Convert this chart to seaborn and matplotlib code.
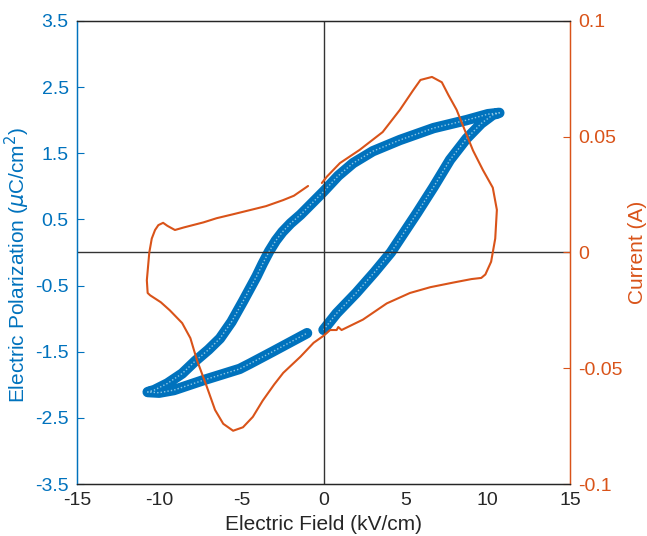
#!/usr/bin/env python3
"""P-E hysteresis loop with switching current on a second axis."""

import matplotlib
matplotlib.use("Agg")
import matplotlib.pyplot as plt
import seaborn as sns

BLUE = "#0072BD"
ORANGE = "#D95319"
DARK = "#262626"

# polarization loop, in drawing order (kV/cm, uC/cm^2)
pe_field = [0.0, 0.8, 2.0, 3.1, 4.1, 4.9, 5.7, 6.7, 7.7, 8.7, 9.6, 10.3, 10.7,
            10.0, 8.7, 6.7, 4.65, 3.0, 1.8, 0.9, 0.0, -1.4, -2.0, -2.5, -2.9,
            -3.3, -3.7, -4.07, -4.9, -5.6, -6.3, -7.0, -7.8, -8.6, -9.5, -10.3,
            -10.7, -10.0, -9.1, -7.3, -5.1, -4.47, -3.1, -1.0]
pe_polar = [-1.17, -0.92, -0.61, -0.3, 0.0, 0.3, 0.6, 0.99, 1.4, 1.72, 1.95, 2.08, 2.11,
            2.09, 2.0, 1.88, 1.70, 1.53, 1.35, 1.16, 0.92, 0.57, 0.44, 0.31, 0.18,
            0.02, -0.17, -0.36, -0.74, -1.05, -1.3, -1.47, -1.64, -1.83, -1.98, -2.08,
            -2.11, -2.12, -2.08, -1.93, -1.76, -1.68, -1.5, -1.22]

# current trace, in drawing order (kV/cm, A)
cur_field = [-0.94, -1.8, -2.46, -3.5, -4.47, -5.5, -6.5, -7.3, -8.5, -9.04, -9.5,
             -9.76, -10.05, -10.25, -10.45, -10.6, -10.75, -10.7, -10.55, -9.9,
             -9.35, -8.6, -8.1, -7.7, -7.1, -6.6, -6.1, -5.5, -4.9, -4.3, -3.7,
             -3.0, -2.45, -1.4, -0.6, 0.0, 0.4, 0.8, 0.9, 1.1, 2.4, 3.85, 5.26,
             6.5, 7.9, 9.0, 9.6, 9.85, 10.2, 10.45, 10.55, 10.3, 9.7, 9.1, 8.7,
             8.1, 7.6, 7.2, 6.6, 5.9, 5.45, 4.65, 3.6, 2.2, 1.0, 0.2, -0.1]
cur_amp = [0.0287, 0.0245, 0.0226, 0.0200, 0.0183, 0.0165, 0.0148, 0.0130, 0.0108,
           0.0097, 0.0115, 0.0128, 0.0118, 0.0097, 0.0060, 0.0, -0.012, -0.0175,
           -0.0185, -0.0215, -0.025, -0.0305, -0.037, -0.0465, -0.058, -0.068,
           -0.074, -0.077, -0.0755, -0.071, -0.064, -0.057, -0.052, -0.045,
           -0.039, -0.036, -0.0335, -0.0335, -0.0322, -0.0335, -0.029, -0.022,
           -0.0175, -0.015, -0.013, -0.0115, -0.011, -0.0095, -0.004, 0.006,
           0.0184, 0.028, 0.0356, 0.044, 0.051, 0.0616, 0.068, 0.0735, 0.0758,
           0.0745, 0.070, 0.0616, 0.052, 0.0443, 0.0386, 0.0327, 0.030]

x_ticks = [-15, -10, -5, 0, 5, 10, 15]
x_labels = ["-15", "-10", "-5", "0", "5", "10", "15"]
p_ticks = [-3.5, -2.5, -1.5, -0.5, 0.5, 1.5, 2.5, 3.5]
p_labels = ["-3.5", "-2.5", "-1.5", "-0.5", "0.5", "1.5", "2.5", "3.5"]
i_ticks = [-0.1, -0.05, 0, 0.05, 0.1]
i_labels = ["-0.1", "-0.05", "0", "0.05", "0.1"]

sns.set_style("white")
plt.rcParams["font.family"] = ["Liberation Sans", "DejaVu Sans"]
plt.rcParams["axes.unicode_minus"] = False

fig, ax = plt.subplots(figsize=(6.47, 5.36), dpi=100)
fig.subplots_adjust(left=0.119, right=0.881, bottom=0.097, top=0.961)
ax2 = ax.twinx()

# thick band imitating the dense open-circle markers
sns.lineplot(x=pe_field, y=pe_polar, sort=False, estimator=None, ax=ax,
             color=BLUE, linewidth=7.5, solid_capstyle="round",
             solid_joinstyle="round", zorder=2)
sns.lineplot(x=pe_field, y=pe_polar, sort=False, estimator=None, ax=ax,
             color="#8cc6e4", linewidth=1.0, linestyle=(0, (1, 1.5)), zorder=2.5)

ax.axhline(0, color="#333333", linewidth=1.0, zorder=3)
ax.axvline(0, color="#333333", linewidth=1.0, zorder=3)

sns.lineplot(x=cur_field, y=cur_amp, sort=False, estimator=None, ax=ax2,
             color=ORANGE, linewidth=1.5)

ax.set_xlim(-15, 15)
ax.set_ylim(-3.5, 3.5)
ax2.set_ylim(-0.1, 0.1)

ax.set_xticks(x_ticks, x_labels)
ax.set_yticks(p_ticks, p_labels)
ax2.set_yticks(i_ticks, i_labels)

ax.tick_params(axis="x", direction="in", length=5, width=0.8, colors=DARK,
               labelsize=14, pad=6)
ax.tick_params(axis="y", direction="in", length=5, width=0.8, colors=BLUE,
               labelsize=14, pad=6)
ax2.tick_params(axis="y", direction="in", length=5, width=0.8, colors=ORANGE,
                labelsize=14, pad=6)

ax.set_xlabel("Electric Field (kV/cm)", fontsize=15, color=DARK, labelpad=4)
ax.set_ylabel(r"Electric Polarization ($\mu$C/cm$^2$)", fontsize=15, color=BLUE)
ax.yaxis.set_label_coords(-0.092, 0.473)
ax2.set_ylabel("Current (A)", fontsize=15, color=ORANGE, labelpad=4)

for a in (ax, ax2):
    a.spines["top"].set_color(DARK)
    a.spines["bottom"].set_color(DARK)
    a.spines["left"].set_color(BLUE)
    a.spines["right"].set_color(ORANGE)
    for s in a.spines.values():
        s.set_linewidth(0.9)

plt.savefig("out.png", dpi=100)
plt.close()
print("Saved: out.png")
